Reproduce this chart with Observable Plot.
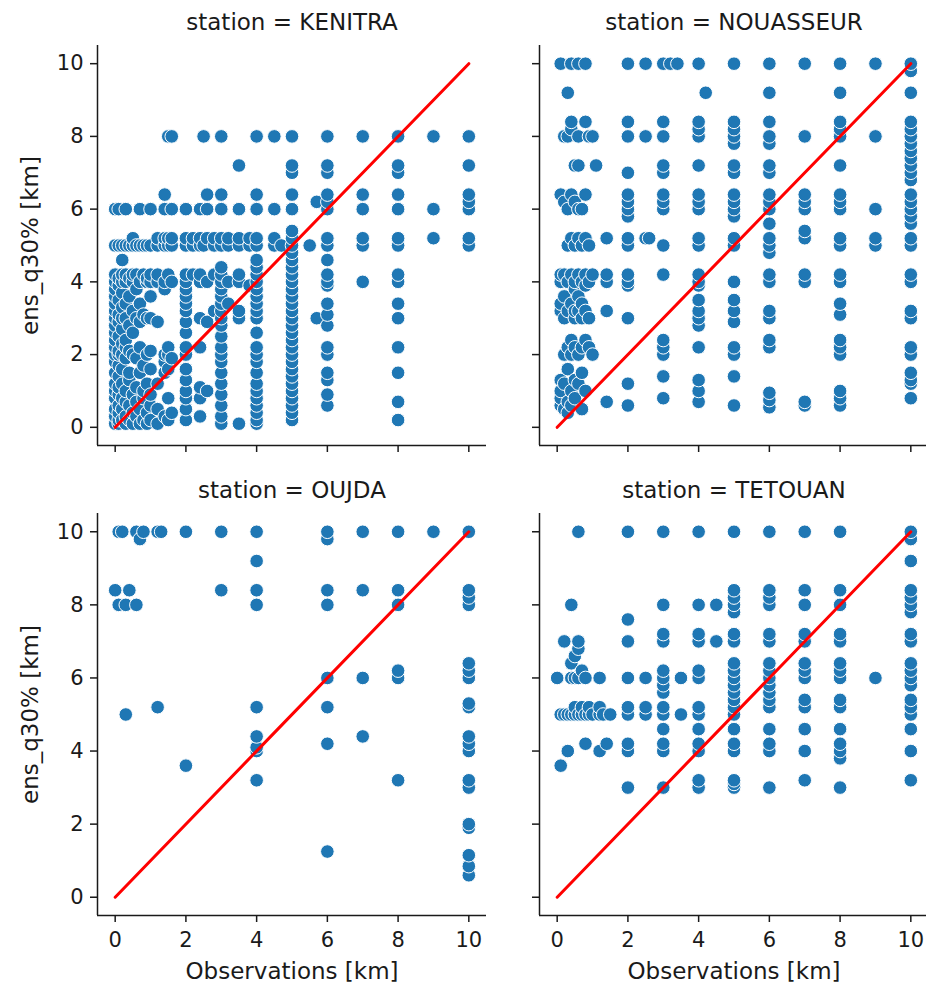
<!DOCTYPE html>
<html><head><meta charset="utf-8">
<script src="https://cdn.jsdelivr.net/npm/d3@7"></script>
<script src="https://cdn.jsdelivr.net/npm/@observablehq/plot@0.6"></script>
<style>
body{margin:0;background:#fff;}
#chart{position:relative;width:926px;height:987px;overflow:hidden;font-family:"DejaVu Sans",sans-serif;}
#chart svg{position:absolute;}
</style></head><body><div id="chart"></div>
<script>
const stations = ["KENITRA","NOUASSEUR","OUJDA","TETOUAN"];
const xLabel = "Observations [km]";
const yLabel = "ens_q30% [km]";
const xTicks = [0,2,4,6,8,10];
const yTicks = [0,2,4,6,8,10];
const domain = [-0.5, 10.5];
const diagonal = [0, 10];

// each entry: [observation, [ens_q30% values at that observation]]
const kenitra = [
  [0, [0.1,0.3,0.5,0.8,1.0,1.2,1.5,1.8,2.0,2.2,2.4,2.6,2.8,3.0,3.2,3.4,3.6,3.8,4.0,4.2,5.0,6.0]],
  [0.1, [0.1,0.2,0.4,0.6,0.9,1.1,1.4,1.7,2.0,2.1,2.5,2.9,3.1,3.5,3.9,4.1,5.0,6.0]],
  [0.2, [0.2,0.5,0.8,1.2,1.6,2.0,2.3,2.7,3.0,3.3,3.7,4.0,4.2,4.6,5.0]],
  [0.3, [0.1,0.3,0.7,1.0,1.9,2.2,2.4,3.0,3.4,4.0,4.2,5.0,6.0]],
  [0.4, [0.2,0.6,1.3,1.5,2.1,2.8,3.6,4.1,5.0]],
  [0.5, [0.1,0.4,0.9,2.0,2.6,3.2,4.0,4.2,5.0,5.2]],
  [0.6, [0.3,0.7,1.1,1.9,3.0,3.8,4.2,5.0]],
  [0.7, [0.1,0.5,1.5,2.2,2.9,3.4,4.0,5.0,6.0]],
  [0.8, [0.2,0.8,1.0,1.7,3.1,4.2,5.0]],
  [0.9, [0.1,0.4,1.2,2.0,3.0,4.0,4.1,5.0]],
  [1.0, [0.2,0.6,0.9,1.6,2.1,3.0,3.6,4.0,4.2,5.0,6.0]],
  [1.2, [0.1,0.5,1.2,2.9,4.0,4.2,5.0,5.2]],
  [1.4, [0.3,1.5,1.8,2.0,3.8,4.0,5.0,5.2,6.0,6.4]],
  [1.5, [0.2,0.8,1.6,2.0,2.2,4.2,5.0,5.2,8.0]],
  [1.6, [0.4,1.9,4.0,5.0,5.2,6.0,8.0]],
  [2.0, [0.2,0.5,0.8,1.0,1.3,1.6,2.0,2.2,2.6,2.9,3.2,3.4,3.6,3.8,4.0,4.2,5.0,5.2,6.0]],
  [2.2, [4.2,5.0,5.2]],
  [2.4, [0.3,0.8,1.1,2.2,3.0,4.0,4.2,5.0,5.2,6.0]],
  [2.5, [5.0,8.0]],
  [2.6, [1.0,2.9,4.0,5.2,6.0,6.4]],
  [2.8, [3.2,4.2,5.0,5.2]],
  [3.0, [0.1,0.3,0.6,0.9,1.2,1.5,1.8,2.0,2.2,2.5,2.8,3.0,3.2,3.4,3.6,3.8,4.0,4.2,4.4,5.0,5.2,6.0,6.4,8.0]],
  [3.2, [3.4,4.0,5.0,5.2]],
  [3.5, [0.1,3.0,3.2,4.0,4.2,5.0,5.2,6.0,7.2]],
  [3.8, [3.9,5.0,5.2]],
  [4.0, [0.1,0.2,0.4,0.6,0.8,1.0,1.2,1.5,1.8,2.0,2.2,2.6,3.0,3.2,3.4,3.6,3.8,4.0,4.2,4.4,4.6,5.0,5.2,6.0,6.4,8.0]],
  [4.5, [5.0,5.2,6.0,8.0]],
  [4.7, [5.0]],
  [5.0, [0.2,0.4,0.6,0.8,1.0,1.2,1.4,1.6,1.8,2.0,2.2,2.4,2.6,2.8,3.0,3.2,3.4,3.6,3.8,4.0,4.2,4.4,4.6,4.8,5.0,5.2,5.4,6.0,6.4,7.0,7.2,8.0]],
  [5.5, [5.0]],
  [5.7, [3.0,6.2]],
  [6.0, [0.6,0.9,1.3,1.5,2.0,2.2,2.8,3.1,3.4,3.9,4.0,4.2,4.6,5.0,5.2,6.0,6.2,6.4,7.0,7.2,8.0]],
  [7.0, [4.0,5.0,5.2,6.0,6.4,8.0]],
  [8.0, [0.2,0.7,1.5,2.2,3.0,3.4,4.0,4.2,5.0,5.2,6.0,6.4,7.0,7.2,8.0]],
  [9.0, [5.2,6.0,8.0]],
  [10.0, [5.0,5.2,6.0,6.2,6.4,7.2,8.0]]
];

const nouasseur = [
  [0.1, [0.6,0.8,1.0,1.3,3.2,3.4,4.0,4.2,6.4,10.0]],
  [0.2, [0.5,1.2,2.0,3.0,3.6,4.2,6.2,8.0]],
  [0.3, [0.4,0.7,1.6,2.2,3.2,4.0,5.0,6.0,8.0,9.2]],
  [0.4, [0.6,1.0,2.0,2.4,3.4,4.2,5.2,6.4,8.2,8.4,10.0]],
  [0.5, [0.8,1.3,2.2,3.0,3.2,3.8,4.0,5.0,6.2,7.2]],
  [0.6, [1.2,2.0,3.2,3.6,4.2,5.2,6.0,7.2,8.0,10.0]],
  [0.7, [0.5,1.5,2.2,3.0,3.4,4.0,5.0,6.0]],
  [0.8, [1.0,2.4,3.2,3.9,4.2,5.2,6.4,8.4,10.0]],
  [0.9, [2.2,3.0,4.0,5.0,8.0]],
  [1.0, [2.0,4.2,8.0]],
  [1.1, [7.2]],
  [1.4, [0.7,3.2,4.0,4.2,5.2]],
  [2.0, [0.6,1.2,3.0,3.9,4.0,4.2,5.0,5.2,5.8,6.0,6.2,6.4,7.0,8.0,8.4,10.0]],
  [2.5, [5.2,8.0,10.0]],
  [2.6, [5.2]],
  [3.0, [0.8,1.4,2.0,2.2,2.4,4.2,5.0,6.0,6.2,6.4,7.0,7.2,8.0,8.4,10.0]],
  [3.2, [10.0]],
  [3.4, [10.0]],
  [4.0, [0.7,1.0,1.3,2.2,2.8,3.0,3.2,3.5,3.9,4.0,4.2,5.0,5.2,6.0,6.2,6.4,7.2,8.0,8.2,8.4,10.0]],
  [4.2, [9.2]],
  [5.0, [0.6,1.4,2.0,2.2,2.9,3.2,3.5,4.0,5.0,5.2,5.8,6.0,6.2,6.4,7.0,7.2,7.8,8.0,8.2,8.4,10.0]],
  [6.0, [0.55,0.75,0.95,2.2,2.4,3.0,3.2,4.0,4.2,4.8,5.0,5.2,5.6,6.0,6.2,6.4,7.0,7.2,7.8,8.0,8.4,9.2,10.0]],
  [7.0, [0.6,0.7,4.0,4.2,5.2,5.4,6.0,6.2,6.4,8.0,10.0]],
  [8.0, [0.6,0.8,1.0,2.0,2.2,2.4,3.1,3.4,4.0,4.2,5.0,5.2,6.0,6.2,6.4,7.2,8.0,8.2,8.4,9.2,10.0]],
  [9.0, [5.0,5.2,6.0,8.0,10.0]],
  [10.0, [0.8,1.2,1.3,1.5,2.0,2.2,3.0,3.2,4.0,4.2,5.0,5.2,5.6,5.8,6.0,6.2,6.4,6.8,7.0,7.2,7.4,7.6,7.8,8.0,8.2,8.4,9.2,9.8,10.0]]
];

const oujda = [
  [0.0, [8.4]],
  [0.1, [8.0,10.0]],
  [0.2, [10.0]],
  [0.3, [5.0,8.0]],
  [0.4, [8.4]],
  [0.6, [8.0,10.0]],
  [0.7, [9.8]],
  [0.8, [10.0]],
  [1.2, [5.2,10.0]],
  [1.3, [10.0]],
  [2.0, [3.6,10.0]],
  [3.0, [8.4,10.0]],
  [4.0, [3.2,4.0,4.1,4.4,5.2,8.0,8.4,9.2,10.0]],
  [6.0, [1.25,4.2,5.2,6.0,8.0,8.4,9.8,10.0]],
  [7.0, [4.4,6.0,8.4,10.0]],
  [8.0, [3.2,6.0,6.2,8.0,8.4,10.0]],
  [9.0, [10.0]],
  [10.0, [0.6,0.85,1.15,1.9,2.0,3.0,3.2,4.0,4.2,4.4,5.2,5.3,6.0,6.2,6.4,8.0,8.2,8.4,10.0]]
];

const tetouan = [
  [0.0, [6.0]],
  [0.1, [3.6,5.0]],
  [0.2, [5.0,7.0]],
  [0.3, [4.0,5.0]],
  [0.4, [5.0,6.0,6.4,8.0]],
  [0.5, [5.0,5.2,6.0,6.6]],
  [0.6, [5.0,6.0,6.8,7.0,10.0]],
  [0.7, [5.0,5.2,6.2]],
  [0.8, [4.2,5.0,6.0]],
  [0.9, [5.0,5.2]],
  [1.0, [5.0]],
  [1.2, [4.0,5.0,5.2,6.0]],
  [1.3, [5.0]],
  [1.4, [4.2]],
  [1.5, [5.0]],
  [2.0, [3.0,4.0,4.2,5.0,5.2,6.0,7.0,7.6,10.0]],
  [2.5, [5.0,5.2,6.0]],
  [3.0, [3.0,4.0,4.2,4.6,5.0,5.2,5.6,5.8,6.0,6.2,7.0,7.2,8.0,10.0]],
  [3.5, [5.0,6.0]],
  [4.0, [3.0,3.2,4.0,4.2,4.6,5.0,5.2,6.0,6.2,7.0,7.2,8.0,10.0]],
  [4.5, [7.0,8.0]],
  [5.0, [3.0,3.1,3.2,4.0,4.2,4.6,5.0,5.2,5.4,5.6,5.8,6.0,6.2,6.4,7.0,7.2,7.8,8.0,8.2,8.4,10.0]],
  [6.0, [3.0,4.0,4.2,4.6,5.2,5.4,5.6,5.8,6.0,6.2,6.4,7.0,7.2,8.0,8.2,8.4,10.0]],
  [7.0, [3.2,4.0,4.6,5.2,5.4,6.0,6.2,6.4,7.0,7.2,8.0,8.4,10.0]],
  [8.0, [3.0,3.8,4.0,4.2,4.6,5.2,5.4,6.0,6.2,6.4,7.0,7.2,8.0,8.4,10.0]],
  [9.0, [6.0]],
  [10.0, [3.2,4.0,4.6,5.0,5.2,5.4,5.8,6.0,6.2,6.4,7.0,7.2,7.8,8.0,8.2,8.4,9.2,9.8,10.0]]
];

const stationData = [kenitra, nouasseur, oujda, tetouan];

const ink = "#1a1a1a";
const layouts = [
  {left:0,   top:0,   width:490, height:485, mL:97, mT:45, mR:4,  mB:40, xLab:false, yLab:true},
  {left:480, top:0,   width:460, height:485, mL:59, mT:45, mR:12, mB:40, xLab:false, yLab:false},
  {left:0,   top:470, width:490, height:517, mL:97, mT:43, mR:4,  mB:72, xLab:true,  yLab:true},
  {left:480, top:470, width:460, height:517, mL:59, mT:43, mR:12, mB:72, xLab:true,  yLab:false}
];

const chart = document.getElementById("chart");
stations.forEach((name, i) => {
  const L = layouts[i];
  const rows = stationData[i].flatMap(([x, ys]) => ys.map(y => ({station: name, x, y})));
  const marks = [
    Plot.ruleX([domain[0]], {stroke: ink, strokeWidth: 1.5}),
    Plot.ruleY([domain[0]], {stroke: ink, strokeWidth: 1.5}),
    Plot.axisX({ticks: xTicks, tickSize: 7, tickPadding: 10, fontSize: 21, color: ink, strokeWidth: 1.5,
      tickFormat: L.xLab ? (d => String(d)) : (() => ""), label: null}),
    Plot.axisY({ticks: yTicks, tickSize: 7, tickPadding: 7, fontSize: 21, color: ink, strokeWidth: 1.5,
      tickFormat: L.yLab ? (d => String(d)) : (() => ""), label: null}),
    Plot.dot(rows, {x: "x", y: "y", r: 6.8, fill: "#1f77b4", stroke: "white", strokeWidth: 1}),
    Plot.line(diagonal, {x: d => d, y: d => d, stroke: "red", strokeWidth: 3}),
    Plot.text(["station = " + name], {frameAnchor: "top", dy: -23, lineAnchor: "middle", fontSize: 23, fill: ink})
  ];
  if (L.xLab) marks.push(Plot.text([xLabel], {frameAnchor: "bottom", dy: 56, lineAnchor: "middle", fontSize: 23, fill: ink}));
  if (L.yLab) marks.push(Plot.text([yLabel], {frameAnchor: "left", dx: -67, rotate: -90, lineAnchor: "middle", textAnchor: "middle", fontSize: 23, fill: ink}));
  const svg = Plot.plot({
    width: L.width, height: L.height,
    marginLeft: L.mL, marginTop: L.mT, marginRight: L.mR, marginBottom: L.mB,
    x: {domain, label: null},
    y: {domain, label: null},
    style: {fontFamily: "DejaVu Sans, sans-serif", background: "transparent", overflow: "visible"},
    marks
  });
  svg.style.left = L.left + "px";
  svg.style.top = L.top + "px";
  chart.appendChild(svg);
});
</script></body></html>
